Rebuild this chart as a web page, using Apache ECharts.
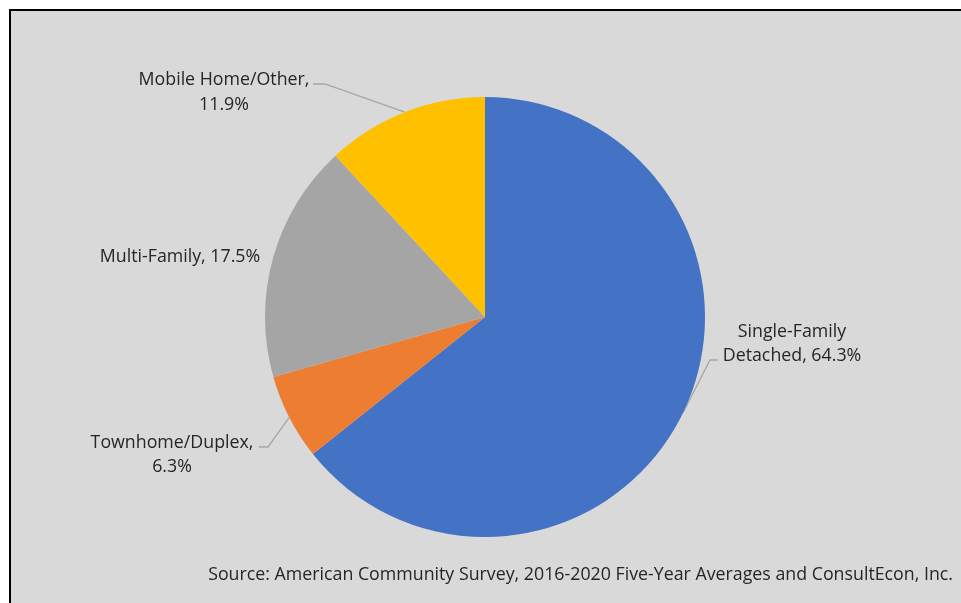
<!DOCTYPE html>
<html>
<head>
<meta charset="utf-8">
<title>Housing Units by Type</title>
<script src="https://cdn.jsdelivr.net/npm/echarts@6/dist/echarts.min.js"></script>
<style>
  html, body { margin: 0; padding: 0; background: #ffffff; }
  #frame {
    position: absolute; left: 9px; top: 9px; width: 952px; height: 594px;
    border-left: 2px solid #000; border-top: 2px solid #000; box-sizing: border-box;
    background: #d9d9d9;
  }
  #chart { position: absolute; left: 0; top: 0; width: 961px; height: 603px; }
</style>
</head>
<body>
<div id="frame"></div>
<div id="chart"></div>
<script>
// Housing type shares (percent), clockwise from 12 o'clock
const categories = ['Single-Family Detached', 'Townhome/Duplex', 'Multi-Family', 'Mobile Home/Other'];
const shares = [64.3, 6.3, 17.5, 11.9];
const colors = ['#4472c4', '#ed7d31', '#a5a5a5', '#ffc000'];
// label text lines (where each label breaks)
const labelLines = [
  ['Single-Family', 'Detached, {v}%'],
  ['Townhome/Duplex,', '{v}%'],
  ['Multi-Family, {v}%'],
  ['Mobile Home/Other,', '{v}%']
];
const sourceNote = 'Source: American Community Survey, 2016-2020 Five-Year Averages and ConsultEcon, Inc.';

// label anchor (centre) and leader-line elbow/end for each slice
const labelPlacement = [
  { x: 792, y: 344, line: [[710, 360], [718, 360]] },
  { x: 172, y: 455, line: [[268, 447], [259, 447]] },
  { x: 180, y: 257, line: null },
  { x: 224, y: 92.5, line: [[325, 84], [313, 84]] }
];

const chart = echarts.init(document.getElementById('chart'), null, { renderer: 'canvas' });

const data = categories.map((name, i) => ({
  name: name,
  value: shares[i],
  itemStyle: { color: colors[i] },
  labelLine: { show: labelPlacement[i].line !== null }
}));

chart.setOption({
  backgroundColor: 'transparent',
  animation: false,
  graphic: [{
    type: 'text',
    right: 8,
    top: 566,
    style: {
      text: sourceNote,
      font: '17.8px "Open Sans"',
      fill: '#262626'
    }
  }],
  series: [{
    type: 'pie',
    center: [485, 317],
    radius: 220,
    startAngle: 90,
    clockwise: true,
    data: data,
    itemStyle: { borderWidth: 0 },
    emphasis: { disabled: true },
    label: {
      show: true,
      position: 'outside',
      fontFamily: 'Open Sans',
      fontSize: 17.8,
      lineHeight: 24.5,
      color: '#262626',
      align: 'center',
      formatter: function (p) {
        return labelLines[p.dataIndex]
          .map(s => s.replace('{v}', p.value.toFixed(1)))
          .join('\n');
      }
    },
    labelLine: {
      show: true,
      lineStyle: { color: '#a6a6a6', width: 1.3 }
    },
    labelLayout: function (params) {
      const pl = labelPlacement[params.dataIndex];
      const out = {
        x: pl.x,
        y: pl.y,
        align: 'center',
        verticalAlign: 'middle',
        hideOverlap: false,
        moveOverlap: false
      };
      if (pl.line && params.labelLinePoints) {
        out.labelLinePoints = [params.labelLinePoints[0], pl.line[0], pl.line[1]];
      }
      return out;
    }
  }]
});
</script>
</body>
</html>
